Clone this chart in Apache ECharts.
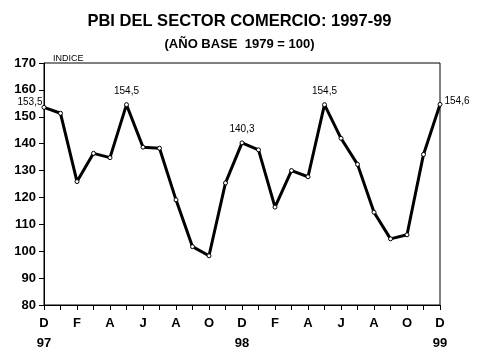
<!DOCTYPE html>
<html><head><meta charset="utf-8">
<script src="https://cdn.jsdelivr.net/npm/echarts@6/dist/echarts.min.js"></script>
<style>html,body{margin:0;padding:0;background:#fff}#c{width:479px;height:359px}</style>
</head><body><div id="c"></div>
<script>
const months = ['D','E','F','M','A','M','J','J','A','S','O','N','D','E','F','M','A','M','J','J','A','S','O','N','D'];
const years = {0:'97',12:'98',24:'99'};
const values = [153.5,151.3,125.9,136.4,134.8,154.5,138.7,138.3,119.1,101.7,98.3,125.4,140.3,137.7,116.4,130.0,127.7,154.5,142.0,132.3,114.5,104.6,106.1,136.0,154.6];
const labelIdx = {0:'left',5:'top',12:'top',17:'top',24:'right'};
const yTicks = [80,90,100,110,120,130,140,150,160,170];

const chart = echarts.init(document.getElementById('c'));
const cats = months.map((m,i)=>i);
chart.setOption({
  animation:false,
  title:[
    {text:'PBI DEL SECTOR COMERCIO: 1997-99',left:'center',top:8,textStyle:{fontFamily:'Liberation Sans, Arial',fontSize:16.5,fontWeight:'bold',color:'#000'}},
    {text:'(AÑO BASE  1979 = 100)',left:'center',top:33,textStyle:{fontFamily:'Liberation Sans, Arial',fontSize:13,fontWeight:'bold',color:'#000'}},
    {text:'INDICE',left:48,top:49,textStyle:{fontFamily:'Liberation Sans, Arial',fontSize:9,fontWeight:'normal',color:'#000'}}
  ],
  grid:{left:44,right:39,top:63,bottom:54,show:true,borderColor:'#000',borderWidth:1,backgroundColor:'transparent'},
  xAxis:{type:'category',data:cats,boundaryGap:false,
    axisLine:{lineStyle:{color:'#000',width:1}},
    axisTick:{interval:0,length:5,lineStyle:{color:'#000'}},
    axisLabel:{interval:1,margin:8,fontFamily:'Liberation Sans, Arial',fontSize:13,fontWeight:'bold',color:'#000',lineHeight:20,
      formatter:(v,i)=>{const idx=+v;return months[idx]+(years[idx]?'\n'+years[idx]:'\n ');}},
    splitLine:{show:false}},
  yAxis:{type:'value',min:yTicks[0],max:yTicks[yTicks.length-1],interval:10,
    axisLine:{show:true,lineStyle:{color:'#000'}},
    axisTick:{show:true,length:5,lineStyle:{color:'#000'}},
    axisLabel:{margin:8,fontFamily:'Liberation Sans, Arial',fontSize:13,fontWeight:'bold',color:'#000'},
    splitLine:{show:false}},
  series:[{type:'line',data:values.map((v,i)=>{
      const o={value:v};
      if(labelIdx[i]){o.label={show:true,position:labelIdx[i],distance:labelIdx[i]==='left'?1:(labelIdx[i]==='right'?2:6),
        offset:i===0?[2,-5]:(i===24?[0,-3]:[0,0]),
        formatter:String(v.toFixed(1)).replace('.',',')};}
      return o;}),
    symbol:'circle',symbolSize:4,showAllSymbol:true,
    itemStyle:{color:'#fff',borderColor:'#000',borderWidth:1},
    lineStyle:{color:'#000',width:3},
    label:{fontFamily:'Liberation Sans, Arial',fontSize:10,color:'#000'},
    z:3}]
});
</script></body></html>
